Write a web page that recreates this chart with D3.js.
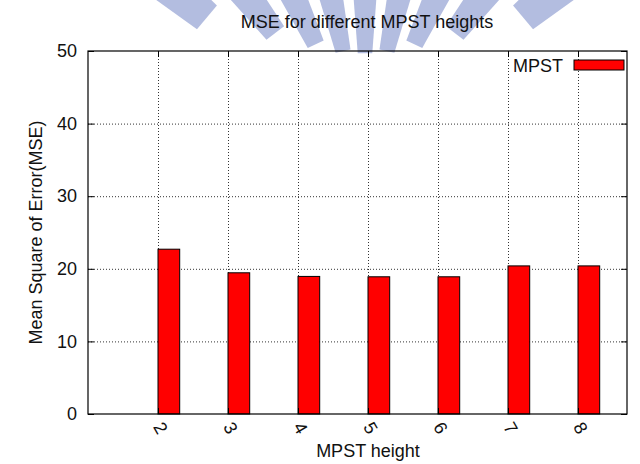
<!DOCTYPE html>
<html>
<head>
<meta charset="utf-8">
<script src="https://cdn.jsdelivr.net/npm/d3@7"></script>
<style>
  body { margin: 0; background: #fff; }
  text { font-family: "Liberation Sans", Arial, sans-serif; fill: #111; }
</style>
</head>
<body>
<svg id="chart"></svg>
<script>
// data
const categories = [2, 3, 4, 5, 6, 7, 8];
const mseValues = [22.7, 19.45, 18.95, 18.9, 18.9, 20.4, 20.4];
const yTicks = [0, 10, 20, 30, 40, 50];
const seriesName = "MPST";

// watermark stripes (angle from vertical, degrees)
const stripeAngles = [-50, -37.5, -25, -12.5, 0, 12.5, 25, 37.5, 50];

const W = 640, H = 464;
const plot = { left: 88, right: 627, top: 51, bottom: 414 };
const fontSize = 18;

const svg = d3.select("#chart")
    .attr("width", W)
    .attr("height", H);

// scales
const xScale = d3.scaleLinear().domain([1, 8.7]).range([plot.left, plot.right]);
const yScale = d3.scaleLinear().domain([0, 50]).range([plot.bottom, plot.top]);
const barW = 0.31;

// watermark behind everything
const wm = svg.append("g");
const cx = 365, cy = 150;
stripeAngles.forEach(a => {
    const yEnd = 53 - 36 * Math.pow(a / 50, 2);
    const rIn = (cy - yEnd) / Math.cos(a * Math.PI / 180);
    const rOut = 420;
    const pt = (ang, r) => {
        const t = ang * Math.PI / 180;
        return [cx + r * Math.sin(t), cy - r * Math.cos(t)];
    };
    const half = 4.3;
    const pts = [pt(a - half, rIn), pt(a + half, rIn), pt(a + half, rOut), pt(a - half, rOut)];
    wm.append("path")
        .attr("d", "M" + pts.join("L") + "Z")
        .attr("fill", "#b3bde0");
});

// grid lines
svg.append("g")
    .attr("transform", `translate(${plot.left},0)`)
    .call(d3.axisLeft(yScale).tickValues(yTicks.slice(1, -1)).tickSize(-(plot.right - plot.left)).tickFormat(""))
    .call(g => g.select(".domain").remove())
    .selectAll("line")
    .attr("stroke", "#333")
    .attr("stroke-dasharray", "1,2");

svg.append("g")
    .attr("transform", `translate(0,${plot.bottom})`)
    .call(d3.axisBottom(xScale).tickValues(categories).tickSize(-(plot.bottom - plot.top)).tickFormat(""))
    .call(g => g.select(".domain").remove())
    .selectAll("line")
    .attr("stroke", "#333")
    .attr("stroke-dasharray", "1,2");

// bars
svg.append("g")
    .selectAll("rect")
    .data(categories)
    .join("rect")
    .attr("x", (d, i) => xScale(d))
    .attr("y", (d, i) => yScale(mseValues[i]))
    .attr("width", (d, i) => xScale(d + barW) - xScale(d))
    .attr("height", (d, i) => yScale(0) - yScale(mseValues[i]))
    .attr("fill", "#ff0000")
    .attr("stroke", "#000")
    .attr("stroke-width", 1);

// y axis (left) with inward ticks
const yAxis = svg.append("g")
    .attr("transform", `translate(${plot.left},0)`)
    .call(d3.axisLeft(yScale).tickValues(yTicks).tickSize(-6).tickPadding(11));
yAxis.select(".domain").remove();
yAxis.selectAll("text").style("font-size", fontSize + "px").attr("fill", "#111");

// mirrored ticks on right
svg.append("g")
    .attr("transform", `translate(${plot.right},0)`)
    .call(d3.axisRight(yScale).tickValues(yTicks).tickSize(-6).tickFormat(""))
    .select(".domain").remove();

// x axis bottom
const xAxis = svg.append("g")
    .attr("transform", `translate(0,${plot.bottom})`)
    .call(d3.axisBottom(xScale).tickValues(categories).tickSize(-6).tickFormat(""));
xAxis.select(".domain").remove();
xAxis.selectAll(".tick")
    .append("text")
    .attr("transform", "translate(2,14) rotate(60)")
    .attr("text-anchor", "middle")
    .attr("dominant-baseline", "central")
    .style("font-size", fontSize + "px")
    .text(d => d);

// mirrored ticks on top
svg.append("g")
    .attr("transform", `translate(0,${plot.top})`)
    .call(d3.axisTop(xScale).tickValues(categories).tickSize(-6).tickFormat(""))
    .select(".domain").remove();

// border
svg.append("rect")
    .attr("x", plot.left)
    .attr("y", plot.top)
    .attr("width", plot.right - plot.left)
    .attr("height", plot.bottom - plot.top)
    .attr("fill", "none")
    .attr("stroke", "#000")
    .attr("stroke-width", 1.2);

// legend
svg.append("text")
    .attr("x", 563)
    .attr("y", 72)
    .attr("text-anchor", "end")
    .style("font-size", fontSize + "px")
    .text(seriesName);
svg.append("rect")
    .attr("x", 574)
    .attr("y", 60)
    .attr("width", 50)
    .attr("height", 10)
    .attr("fill", "#ff0000")
    .attr("stroke", "#000");

// title and axis labels
svg.append("text")
    .attr("x", 367)
    .attr("y", 28)
    .attr("text-anchor", "middle")
    .style("font-size", fontSize + "px")
    .text("MSE for different MPST heights");

svg.append("text")
    .attr("x", 368)
    .attr("y", 457)
    .attr("text-anchor", "middle")
    .style("font-size", fontSize + "px")
    .text("MPST height");

svg.append("text")
    .attr("transform", `translate(42,${(plot.top + plot.bottom) / 2}) rotate(-90)`)
    .attr("text-anchor", "middle")
    .style("font-size", fontSize + "px")
    .text("Mean Square of Error(MSE)");
</script>
</body>
</html>
